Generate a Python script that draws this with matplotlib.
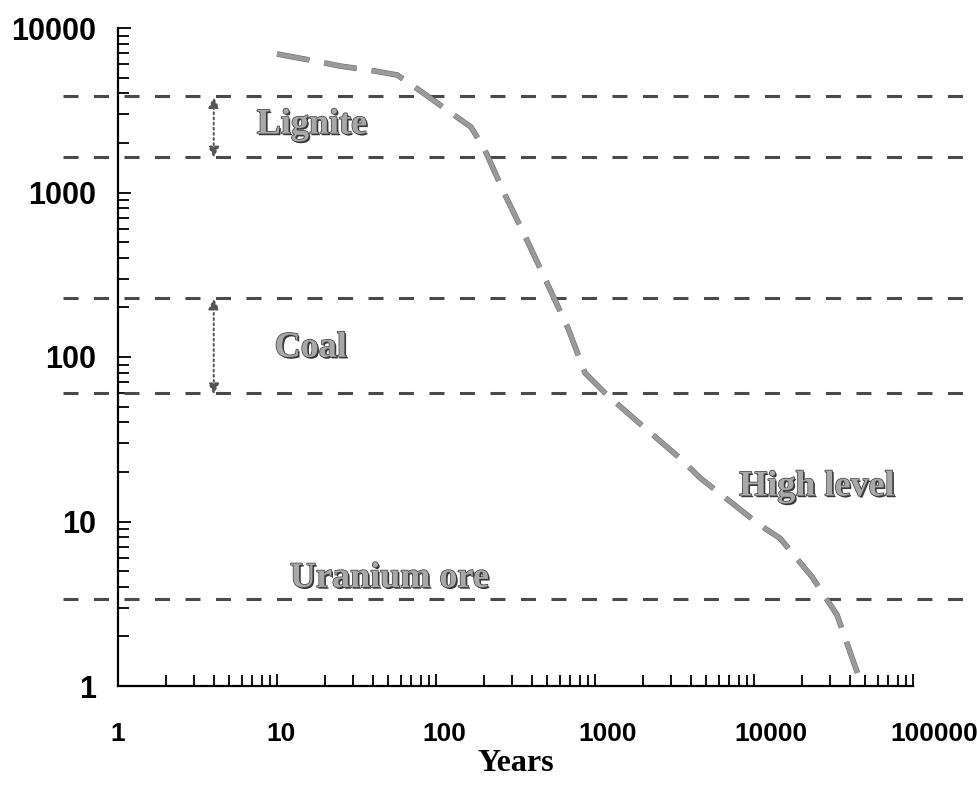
import matplotlib
matplotlib.use('Agg')
import matplotlib.pyplot as plt
import matplotlib.patheffects as pe
from matplotlib.ticker import LogLocator, NullFormatter

# waste radiotoxicity curve
years = [10, 16, 25, 41, 57, 83, 122, 166, 203, 272, 373, 499, 676, 865,
         1190, 2060, 3520, 4580, 6390, 10900, 14600, 23200, 33300, 47800]
high_level = [6950, 6390, 5870, 5480, 5180, 4030, 3085, 2500, 1810, 966, 514,
              282, 150, 80, 58.8, 37, 23.7, 18.4, 14.3, 9.5, 7.9, 4.6, 2.7, 1.0]

# reference bands
lignite = [3840, 1650]
coal = [229, 60]
uranium_ore = 3.4

band_names = ['Lignite', 'Coal', 'High level', 'Uranium ore']
band_label_x = [16.6, 16.3, 24900, 51]
band_label_y = [2570, 113, 16.2, 4.5]

x_ticks = [1, 10, 100, 1000, 10000, 100000]
y_ticks = [1, 10, 100, 1000, 10000]

W, H = 978, 796
fig = plt.figure(figsize=(W / 100, H / 100), dpi=100)
left, right, top, bottom = 118, 913, 28, 686
ax = fig.add_axes([left / W, 1 - bottom / H, (right - left) / W, (bottom - top) / H])
ax.set_xscale('log')
ax.set_yscale('log')
ax.set_xlim(1, 1e5)
ax.set_ylim(1, 1e4)

for s in ['top', 'right']:
    ax.spines[s].set_visible(False)
for s in ['left', 'bottom']:
    ax.spines[s].set_linewidth(1.6)

# dashed horizontal reference lines, running past the axes on both sides
lw_h = 2.2
for yv in lignite + coal + [uranium_ore]:
    ax.plot([0.45, 2.3e5], [yv, yv], color='#4a4a4a', lw=lw_h,
            linestyle=(0, (15 / 1.389 / lw_h, 15.5 / 1.389 / lw_h)),
            clip_on=False, zorder=2)

# dotted double arrows showing the bands
for lo, hi in [lignite, coal]:
    ax.annotate('', xy=(4.0, lo * 1.03), xytext=(4.0, hi * 0.95),
                arrowprops=dict(arrowstyle='<|-|>', linestyle=':', lw=1.4,
                                color='#555555', mutation_scale=16))

# high level waste curve
lw_c = 3.2
ax.plot(years, high_level, color='#9a9a9a', lw=lw_c,
        linestyle=(0, (33 / 1.389 / lw_c, 15 / 1.389 / lw_c)),
        solid_capstyle='butt', zorder=3,
        path_effects=[pe.Stroke(linewidth=lw_c + 0.8, foreground='#6a6a6a'), pe.Normal()])

effects = [pe.withSimplePatchShadow(offset=(1.2, -1.2), shadow_rgbFace='#222222', alpha=0.9),
           pe.withStroke(linewidth=1.0, foreground='#3a3a3a')]
for name, tx, ty in zip(band_names, band_label_x, band_label_y):
    ax.text(tx, ty, name, ha='center', va='center', fontsize=26,
            family='Liberation Serif', fontweight='bold', color='#a8a8a8',
            path_effects=effects, zorder=4)

# ticks point inward
ax.xaxis.set_major_locator(LogLocator(base=10, numticks=10))
ax.xaxis.set_minor_locator(LogLocator(base=10, subs=range(2, 10), numticks=20))
ax.yaxis.set_minor_locator(LogLocator(base=10, subs=range(2, 10), numticks=20))
ax.tick_params(which='both', direction='in', width=1.3, color='black')
ax.tick_params(which='major', length=9)
ax.tick_params(which='minor', length=8)
ax.xaxis.set_major_formatter(NullFormatter())
ax.xaxis.set_minor_formatter(NullFormatter())
ax.yaxis.set_minor_formatter(NullFormatter())
ax.set_yticks(y_ticks)
ax.set_yticklabels([str(v) for v in y_ticks], family='Liberation Sans',
                   fontweight='bold', fontsize=22)
ax.tick_params(axis='y', which='major', pad=16)

# x tick labels sit on a slightly stretched scale in the original
lab_right = 934
ax_lab = fig.add_axes([left / W, 1 - bottom / H, (lab_right - left) / W, (bottom - top) / H],
                      frameon=False)
ax_lab.set_xscale('log')
ax_lab.set_xlim(1, 1e5)
ax_lab.set_xticks(x_ticks)
ax_lab.set_xticklabels([str(v) for v in x_ticks], family='Liberation Sans',
                       fontweight='bold', fontsize=19)
ax_lab.xaxis.set_minor_formatter(NullFormatter())
ax_lab.tick_params(which='both', length=0, pad=26)
ax_lab.set_yticks([])
ax_lab.patch.set_visible(False)
ax_lab.set_zorder(-1)

ax.set_xlabel('Years', family='Liberation Serif', fontweight='bold', fontsize=23,
              labelpad=42)

fig.savefig('out.png', dpi=100)
